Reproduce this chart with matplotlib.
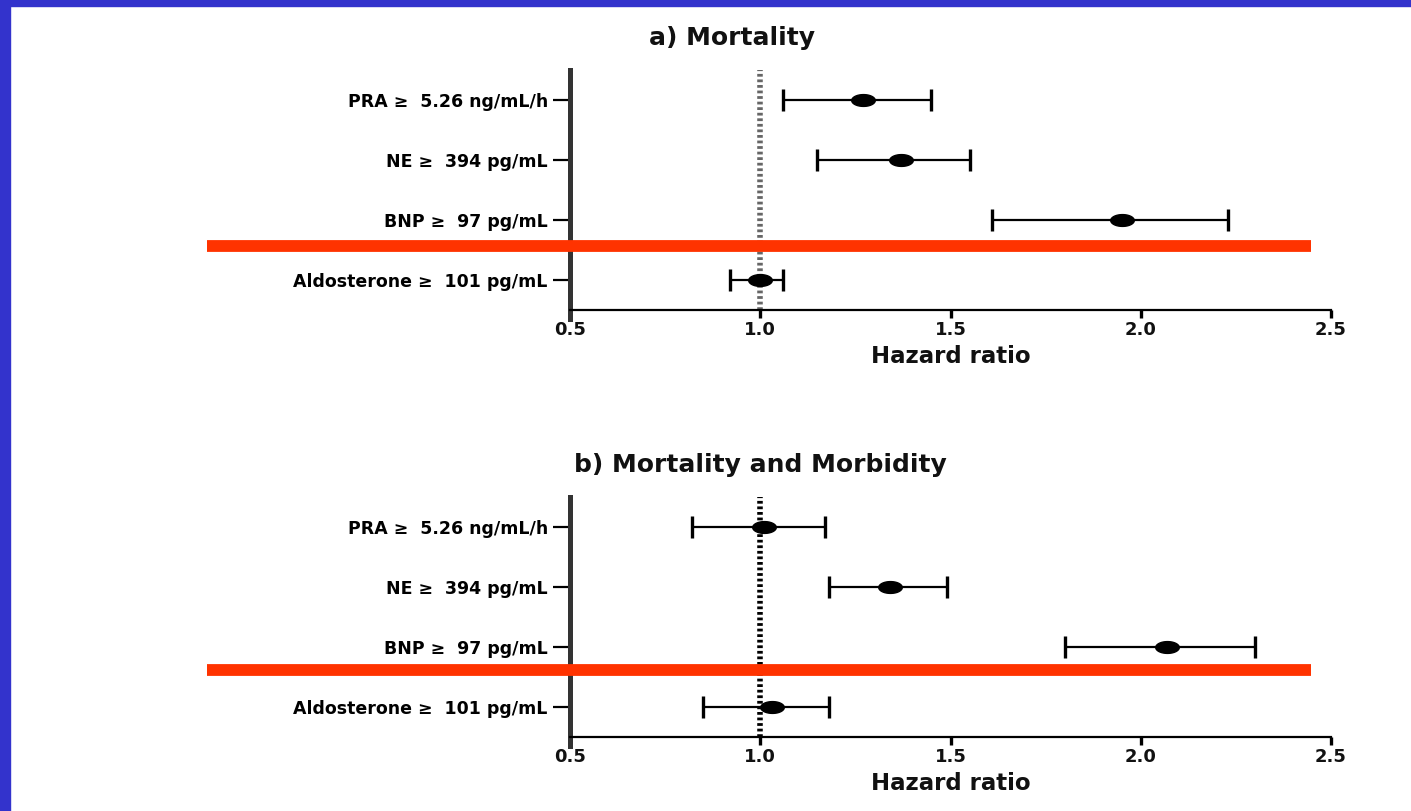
import matplotlib
matplotlib.use("Agg")
import matplotlib.pyplot as plt
from matplotlib.path import Path
from matplotlib.patches import Rectangle
import numpy as np

labels = ["PRA \u2265  5.26 ng/mL/h", "NE \u2265  394 pg/mL",
          "BNP \u2265  97 pg/mL", "Aldosterone \u2265  101 pg/mL"]

# a) Mortality
hr_a = [1.27, 1.37, 1.95, 1.00]
lo_a = [1.06, 1.15, 1.61, 0.92]
hi_a = [1.45, 1.55, 2.23, 1.06]

# b) Mortality and Morbidity
hr_b = [1.01, 1.34, 2.07, 1.03]
lo_b = [0.82, 1.18, 1.80, 0.85]
hi_b = [1.17, 1.49, 2.30, 1.18]

xticks = [0.5, 1.0, 1.5, 2.0, 2.5]

plt.rcParams['font.family'] = ['DejaVu Sans']
plt.rcParams['font.weight'] = 'bold'

# flat ellipse used as the point marker
t = np.linspace(0, 2 * np.pi, 40)
ell = Path(np.column_stack([1.0 * np.cos(t), 0.5 * np.sin(t)]), closed=True)

fig = plt.figure(figsize=(14.11, 8.11), dpi=100)
fig.patches.append(Rectangle((0, 0), 10 / 1411, 1, transform=fig.transFigure,
                             color='#3333cc', zorder=0))
fig.patches.append(Rectangle((0, 1 - 6 / 811), 1, 6 / 811, transform=fig.transFigure,
                             color='#3333cc', zorder=0))

ax_a = fig.add_axes([570 / 1411, 1 - 310 / 811, 761 / 1411, 240 / 811])
ax_b = fig.add_axes([570 / 1411, 1 - 737 / 811, 761 / 1411, 240 / 811])


def forest(ax, hr, lo, hi, title, title_x, refcol, bar_y):
    y = np.arange(len(labels))
    hr = np.array(hr)
    err = [hr - np.array(lo), np.array(hi) - hr]
    ax.errorbar(hr, y, xerr=err, fmt='none', ecolor='black', elinewidth=1.6,
                capsize=8, capthick=2.4, zorder=3)
    ax.plot(hr, y, ls='none', marker=ell, ms=17, color='black', zorder=4)
    ax.axvline(1.0, color=refcol, lw=4, ls=(0, (0.5, 0.5)), zorder=2)
    ax.axhline(bar_y, xmin=-0.477, xmax=0.974, color='#ff3300', lw=8.5,
               solid_capstyle='butt', clip_on=False, zorder=5)

    ax.set_xlim(0.5, 2.5)
    ax.set_ylim(3.5, -0.5)
    ax.set_yticks(y)
    ax.set_yticklabels(labels, fontsize=12.5, color='#333333')
    ax.set_xticks(xticks)
    ax.set_xticklabels([f"{v:.1f}" for v in xticks], fontsize=13, color='#111111')
    ax.set_xlabel("Hazard ratio", fontsize=16.5, fontweight='bold', labelpad=4,
                  color='#111111')
    ax.set_title(title, fontsize=18, fontweight='bold', pad=18, x=title_x,
                 color='#111111')

    for s in ['top', 'right']:
        ax.spines[s].set_visible(False)
    ax.spines['left'].set_color('#333333')
    ax.spines['left'].set_linewidth(3.6)
    ax.spines['left'].set_bounds(3.65, -0.5)
    ax.spines['bottom'].set_linewidth(1.6)
    ax.tick_params(axis='y', length=12, width=1.6, pad=4, colors='black')
    ax.tick_params(axis='x', length=6, width=2.4, pad=2)


forest(ax_a, hr_a, lo_a, hi_a, "a) Mortality", 0.213, '#666666', 2.43)
forest(ax_b, hr_b, lo_b, hi_b, "b) Mortality and Morbidity", 0.25, 'black', 2.38)

fig.savefig("out.png", dpi=100)
